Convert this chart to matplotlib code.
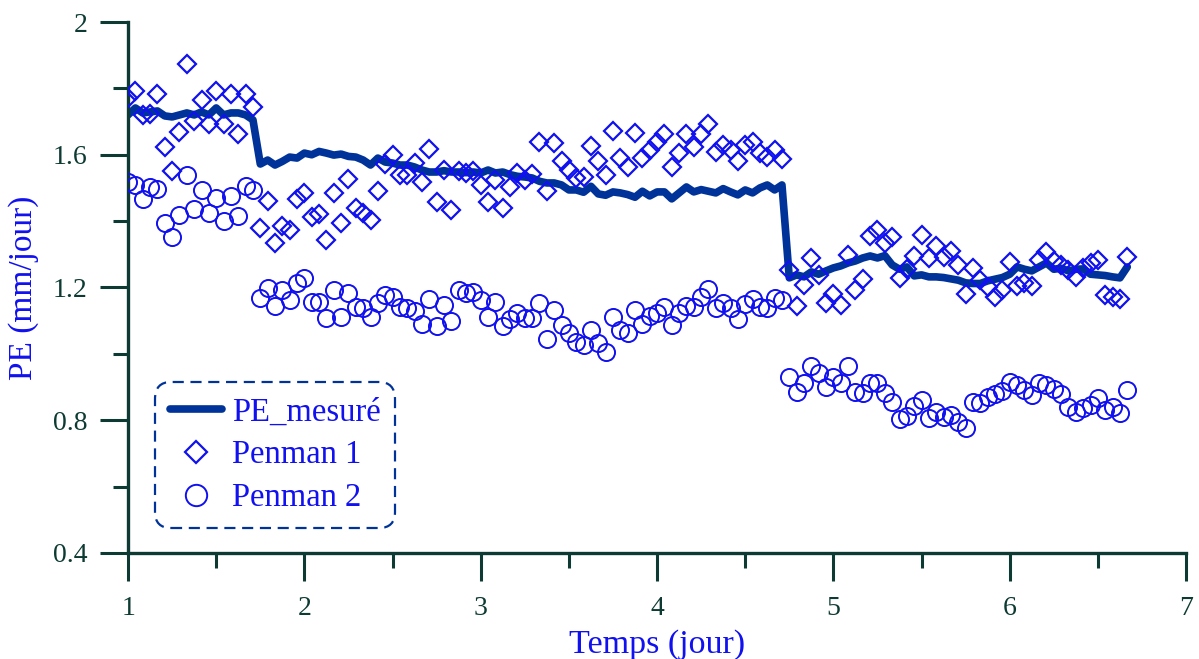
import matplotlib.pyplot as plt
import numpy as np
from matplotlib.ticker import MultipleLocator

# Données horaires (pas d'une heure, jour 1 -> 6.67)
heures = np.arange(137)
temps = 1 + heures / 24

pe_mesure = [
    1.720, 1.741, 1.726, 1.729, 1.732, 1.717, 1.714, 1.720, 1.726, 1.720,
    1.729, 1.720, 1.741, 1.720, 1.726, 1.726, 1.720, 1.705, 1.572, 1.584,
    1.569, 1.580, 1.593, 1.590, 1.605, 1.600, 1.610, 1.605, 1.599, 1.602,
    1.595, 1.593, 1.584, 1.569, 1.590, 1.578, 1.575, 1.569, 1.569, 1.563,
    1.554, 1.548, 1.548, 1.552, 1.548, 1.548, 1.546, 1.548, 1.545, 1.554,
    1.545, 1.548, 1.540, 1.535, 1.533, 1.530, 1.520, 1.515, 1.515, 1.509,
    1.494, 1.494, 1.487, 1.505, 1.482, 1.478, 1.488, 1.485, 1.480, 1.472,
    1.490, 1.476, 1.488, 1.488, 1.467, 1.485, 1.503, 1.488, 1.495, 1.490,
    1.485, 1.498, 1.488, 1.479, 1.494, 1.485, 1.500, 1.509, 1.494, 1.509,
    1.229, 1.238, 1.232, 1.247, 1.240, 1.250, 1.259, 1.265, 1.274, 1.280,
    1.289, 1.295, 1.289, 1.296, 1.268, 1.255, 1.262, 1.235, 1.238, 1.232,
    1.232, 1.230, 1.226, 1.222, 1.214, 1.212, 1.212, 1.220, 1.225, 1.230,
    1.240, 1.262, 1.255, 1.250, 1.262, 1.274, 1.255, 1.258, 1.250, 1.255,
    1.256, 1.240, 1.238, 1.236, 1.232, 1.229, 1.262,
]

penman1 = [
    1.771, 1.792, 1.720, 1.723, 1.783, 1.623, 1.551, 1.669, 1.873, 1.702,
    1.765, 1.693, 1.792, 1.693, 1.783, 1.663, 1.783, 1.744, 1.379, 1.461,
    1.334, 1.385, 1.373, 1.467, 1.485, 1.412, 1.421, 1.343, 1.485, 1.394,
    1.527, 1.440, 1.424, 1.403, 1.491, 1.572, 1.599, 1.539, 1.539, 1.575,
    1.518, 1.617, 1.458, 1.554, 1.434, 1.551, 1.545, 1.551, 1.509, 1.458,
    1.524, 1.440, 1.503, 1.545, 1.524, 1.542, 1.638, 1.491, 1.635, 1.581,
    1.554, 1.530, 1.533, 1.626, 1.581, 1.539, 1.672, 1.590, 1.563, 1.666,
    1.590, 1.614, 1.638, 1.663, 1.563, 1.605, 1.663, 1.623, 1.663, 1.693,
    1.608, 1.629, 1.614, 1.581, 1.629, 1.638, 1.605, 1.593, 1.614, 1.587,
    1.253, 1.144, 1.208, 1.289, 1.238, 1.153, 1.181, 1.147, 1.298, 1.193,
    1.226, 1.355, 1.373, 1.334, 1.352, 1.229, 1.256, 1.295, 1.358, 1.289,
    1.325, 1.292, 1.310, 1.268, 1.181, 1.259, 1.223, 1.202, 1.172, 1.193,
    1.277, 1.205, 1.214, 1.205, 1.283, 1.307, 1.280, 1.268, 1.253, 1.232,
    1.259, 1.274, 1.283, 1.178, 1.172, 1.166, 1.292,
]

penman2 = [
    1.518, 1.509, 1.467, 1.503, 1.497, 1.394, 1.352, 1.418, 1.539, 1.436,
    1.494, 1.424, 1.470, 1.400, 1.476, 1.415, 1.506, 1.494, 1.168, 1.199,
    1.144, 1.193, 1.162, 1.214, 1.229, 1.156, 1.156, 1.108, 1.193, 1.111,
    1.183, 1.141, 1.138, 1.111, 1.153, 1.177, 1.171, 1.141, 1.138, 1.129,
    1.090, 1.165, 1.084, 1.147, 1.099, 1.193, 1.183, 1.187, 1.162, 1.111,
    1.156, 1.084, 1.105, 1.123, 1.108, 1.108, 1.153, 1.045, 1.132, 1.087,
    1.063, 1.036, 1.027, 1.072, 1.033, 1.006, 1.111, 1.072, 1.063, 1.132,
    1.090, 1.114, 1.123, 1.141, 1.087, 1.123, 1.144, 1.141, 1.171, 1.196,
    1.138, 1.153, 1.138, 1.105, 1.150, 1.165, 1.141, 1.138, 1.168, 1.162,
    0.930, 0.885, 0.912, 0.964, 0.942, 0.900, 0.930, 0.912, 0.964, 0.885,
    0.882, 0.912, 0.912, 0.882, 0.855, 0.804, 0.813, 0.843, 0.861, 0.807,
    0.825, 0.810, 0.816, 0.795, 0.777, 0.855, 0.852, 0.870, 0.879, 0.888,
    0.915, 0.906, 0.891, 0.876, 0.912, 0.906, 0.894, 0.879, 0.840, 0.825,
    0.837, 0.846, 0.867, 0.831, 0.840, 0.822, 0.891,
]

axe_col = '#0d3b33'
bleu = '#1010f0'
bleu_fonce = '#003399'

plt.rcParams['font.family'] = ['Liberation Serif', 'DejaVu Serif']

fig = plt.figure(figsize=(11.99, 6.59), dpi=100)
ax = fig.add_axes([0.1068, 0.1609, 0.8824, 0.8057])

ax.plot(temps, pe_mesure, color=bleu_fonce, lw=5.5, solid_capstyle='round',
        solid_joinstyle='round', label='PE_mesuré', zorder=2)
ax.plot(temps, penman1, ls='none', marker='D', ms=9.3, mfc='none',
        mec=bleu, mew=1.6, label='Penman 1', zorder=3)
ax.plot(temps, penman2, ls='none', marker='o', ms=12.3, mfc='none',
        mec=bleu, mew=1.4, label='Penman 2', zorder=3)

ax.set_xlim(1, 7)
ax.set_ylim(0.4, 2)
ax.xaxis.set_major_locator(MultipleLocator(1))
ax.xaxis.set_minor_locator(MultipleLocator(0.5))
ax.yaxis.set_minor_locator(MultipleLocator(0.2))
ax.set_yticks([0.4, 0.8, 1.2, 1.6, 2.0])
ax.set_yticklabels(['0.4', '0.8', '1.2', '1.6', '2'])

for s in ['top', 'right']:
    ax.spines[s].set_visible(False)
for s in ['left', 'bottom']:
    ax.spines[s].set_color(axe_col)
    ax.spines[s].set_linewidth(2.4)

ax.tick_params(which='major', direction='out', length=20, width=2.2,
               color=axe_col, labelcolor=axe_col, labelsize=20, pad=9)
ax.tick_params(axis='x', which='major', pad=11)
ax.tick_params(which='minor', direction='out', length=10.5, width=2.2,
               color=axe_col)

ax.set_xlabel('Temps (jour)', color=bleu, fontsize=24.5, labelpad=6)
ax.set_ylabel('PE (mm/jour)', color=bleu, fontsize=24, labelpad=10)

leg = ax.legend(loc='lower left', bbox_to_anchor=(0.0255, 0.047),
                borderaxespad=0, fontsize=23.5, labelcolor=bleu,
                handlelength=1.6, handletextpad=0.3, labelspacing=0.38,
                borderpad=0.45, fancybox=True, framealpha=1, markerscale=1.25)
fr = leg.get_frame()
fr.set_edgecolor(bleu_fonce)
fr.set_linestyle((0, (5, 3)))
fr.set_linewidth(1.6)
fr.set_boxstyle('round', pad=0, rounding_size=0.5)

fig.savefig('out.png', dpi=100)
